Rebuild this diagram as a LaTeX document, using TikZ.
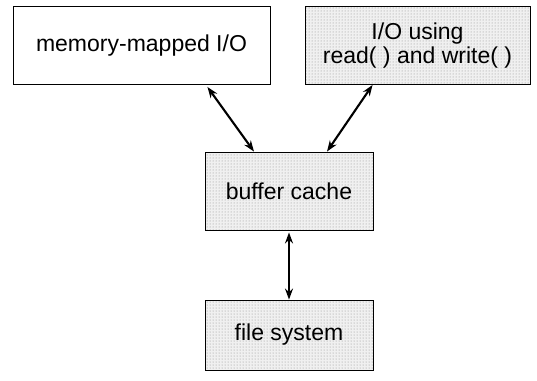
\documentclass[tikz,border=0pt]{standalone}
\usepackage{fontspec}
\setmainfont{Liberation Sans}
\usetikzlibrary{patterns,arrows.meta}
\begin{document}
\begin{tikzpicture}[x=1pt,y=-1pt,
  box/.style={draw=black,line width=0.9pt,inner sep=0pt,align=center,
    font=\fontsize{23}{24}\selectfont},
  dotbox/.style={box,preaction={fill=gray!12},pattern=dots,pattern color=gray!90},
  arr/.style={line width=2.1pt,{Stealth[length=11pt,width=8pt]}-{Stealth[length=11pt,width=8pt]}}]
\useasboundingbox (0,0) rectangle (537,380);
\node[box,minimum width=257pt,minimum height=78pt] (m) at (141.5,45.5) {memory-mapped I/O};
\node[dotbox,minimum width=225pt,minimum height=78pt] (io) at (417.5,45.5) {I/O using\\read( ) and write( )};
\node[dotbox,minimum width=168pt,minimum height=78pt] (bc) at (289,191) {buffer cache};
\node[dotbox,minimum width=168pt,minimum height=70pt] (fs) at (289,335) {file system};
\draw[arr] ([xshift=-63pt,yshift=-2pt]m.south east) -- ([xshift=-35pt]bc.north);
\draw[arr] ([xshift=68pt]io.south west) -- ([xshift=38pt]bc.north);
\draw[arr] ([yshift=-2pt]bc.south) -- (fs.north);
\end{tikzpicture}
\end{document}
